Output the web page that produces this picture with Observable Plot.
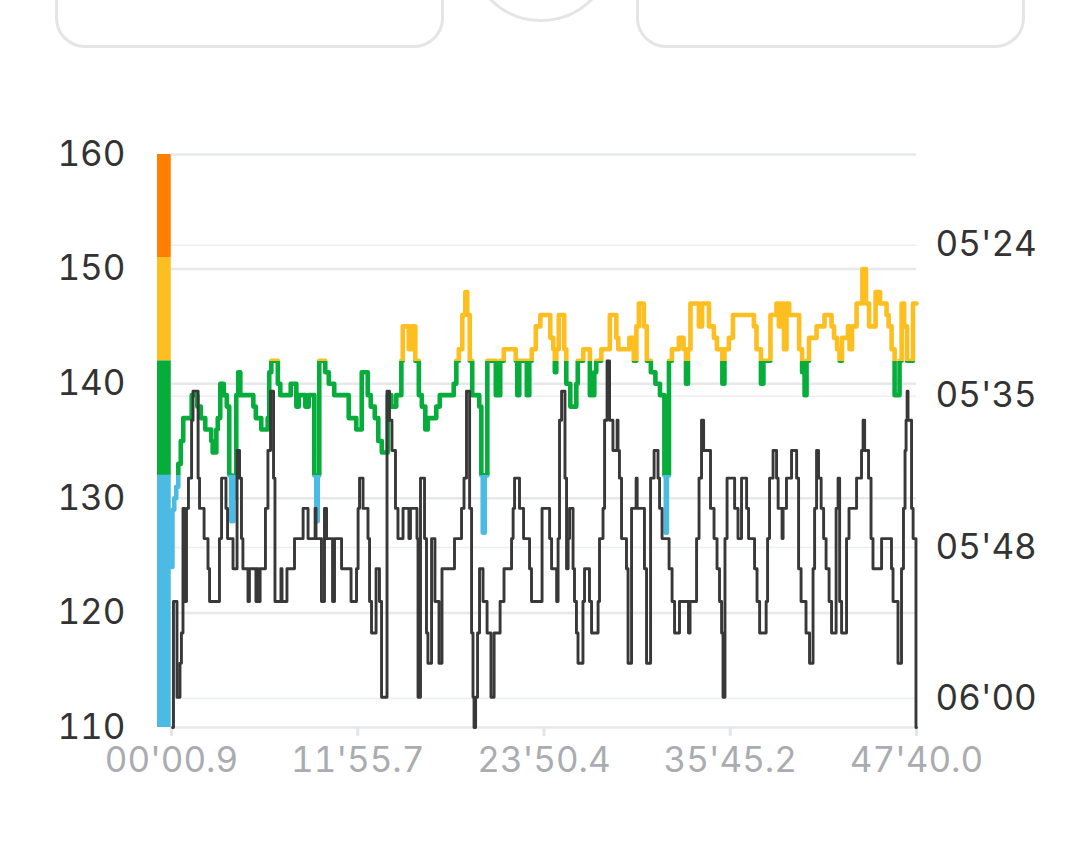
<!DOCTYPE html>
<html>
<head>
<meta charset="utf-8">
<script src="https://cdn.jsdelivr.net/npm/d3@7"></script>
<script src="https://cdn.jsdelivr.net/npm/@observablehq/plot@0.6"></script>
<style>
  html, body { margin: 0; padding: 0; background: #fff; overflow: hidden; }
  #page { position: relative; width: 1080px; height: 864px; overflow: hidden; background: #fff; }
  .card { position: absolute; box-sizing: border-box; border: 3px solid #e5e5e5; border-radius: 30px; background: #fff; }
  #card1 { left: 55px; top: -50px; width: 389px; height: 98px; }
  #card2 { left: 636px; top: -50px; width: 389px; height: 98px; }
  #dial { position: absolute; box-sizing: border-box; left: 468px; top: -124px; width: 146px; height: 146px; border: 3px solid #e5e5e5; border-radius: 50%; background: #fff; }
  .layer { position: absolute; left: 0; top: 0; }
</style>
</head>
<body>
<div id="page">
  <div class="card" id="card1"></div>
  <div id="dial"></div>
  <div class="card" id="card2"></div>
  <div class="layer" id="paceGridLayer"></div>
  <div class="layer" id="hrLayer"></div>
  <div class="layer" id="paceLayer"></div>
</div>
<script>
// ---------- data ----------
// heart-rate zones (bpm bounds) and their colours
const zoneBounds = [110, 132, 142, 151, 160];
const zoneColors = ["#4bbbe4", "#06ad3b", "#fdbe1f", "#ff7f00"];

// left axis ticks (bpm)
const hrTicks = [110, 120, 130, 140, 150, 160];

// right axis ticks: pace in seconds per km and their labels
const paceTicks = [324, 336, 348, 360];
const paceTickLabels = ["05'24", "05'35", "05'48", "06'00"];

// x axis ticks: elapsed seconds and labels
const timeTicks = [0.9, 715.7, 1430.4, 2145.2, 2860.0];
const timeTickLabels = ["00'00.9", "11'55.7", "23'50.4", "35'45.2", "47'40.0"];

// heart rate: [elapsed seconds, bpm]
const hrPoints = [[1,124],[8,129],[15,130],[23,131],[31,133],[42,135],[50,137],[73,137],[84,139],[96,139],[104,138],[123,137],[138,136],[150,136],[157,135],[161,134],[169,134],[177,136],[180,137],[196,140],[207,139],[219,138],[226,132],[234,128],[242,130],[246,132],[253,139],[261,141],[269,139],[276,139],[311,139],[319,138],[330,137],[342,137],[349,136],[368,136],[372,137],[380,141],[388,142],[407,142],[411,140],[426,139],[449,139],[468,140],[476,140],[484,138],[495,139],[507,139],[522,138],[533,139],[545,139],[553,132],[560,128],[564,132],[572,142],[583,142],[599,141],[610,140],[622,140],[629,139],[675,139],[687,137],[706,137],[714,136],[725,136],[737,141],[752,141],[756,139],[775,138],[787,137],[802,135],[814,134],[821,134],[841,139],[848,138],[860,138],[867,139],[879,139],[887,142],[890,145],[906,145],[917,143],[929,145],[944,142],[956,139],[967,138],[983,136],[986,137],[1013,137],[1021,138],[1040,139],[1078,139],[1090,140],[1098,142],[1109,143],[1125,146],[1132,148],[1140,146],[1151,142],[1159,139],[1178,139],[1186,138],[1194,132],[1197,127],[1209,132],[1217,142],[1236,142],[1255,139],[1270,142],[1282,143],[1320,143],[1324,142],[1332,139],[1339,142],[1359,142],[1370,139],[1378,142],[1389,143],[1409,145],[1424,146],[1447,146],[1462,144],[1470,143],[1474,141],[1481,143],[1493,146],[1504,146],[1512,143],[1520,140],[1524,140],[1539,138],[1551,138],[1558,140],[1562,142],[1577,142],[1585,143],[1597,143],[1616,139],[1620,139],[1627,141],[1635,142],[1647,142],[1654,143],[1673,143],[1693,146],[1704,146],[1712,144],[1719,143],[1754,143],[1762,144],[1769,144],[1781,142],[1789,145],[1800,147],[1808,147],[1819,145],[1831,142],[1850,141],[1866,140],[1885,139],[1889,139],[1896,132],[1900,127],[1904,132],[1916,142],[1927,143],[1942,143],[1954,144],[1962,144],[1970,143],[1981,140],[1985,143],[2000,147],[2019,147],[2031,145],[2043,147],[2058,147],[2069,145],[2077,145],[2088,144],[2100,143],[2111,143],[2119,140],[2127,143],[2134,143],[2146,144],[2165,146],[2184,146],[2230,146],[2242,145],[2250,143],[2261,143],[2265,140],[2280,142],[2292,142],[2307,146],[2319,146],[2326,147],[2338,145],[2346,147],[2357,143],[2365,147],[2377,146],[2404,146],[2415,143],[2427,141],[2434,139],[2442,142],[2453,144],[2473,144],[2480,145],[2503,145],[2511,146],[2530,146],[2538,145],[2549,144],[2561,143],[2568,142],[2580,144],[2595,144],[2599,145],[2607,143],[2618,145],[2626,145],[2634,147],[2645,147],[2660,150],[2672,147],[2684,145],[2695,145],[2711,148],[2718,148],[2722,147],[2741,147],[2749,146],[2757,145],[2772,143],[2780,139],[2791,139],[2799,142],[2807,147],[2818,145],[2829,142],[2837,142],[2856,147],[2860,147]];

// pace: [elapsed seconds, seconds per km]
const pacePoints = [[5,362.3],[12,352.3],[20,352.3],[24,359.9],[32,359.9],[35,357.2],[43,354.8],[47,344.9],[55,352.3],[62,344.9],[70,342.5],[74,342.5],[82,337.9],[85,335.6],[101,335.6],[105,342.5],[112,344.9],[124,344.9],[128,347.3],[139,347.3],[143,349.7],[151,352.3],[181,352.3],[189,347.3],[197,342.5],[208,342.5],[212,344.9],[220,347.3],[235,347.3],[239,349.7],[247,349.7],[258,340.3],[266,342.5],[273,347.3],[277,349.7],[293,349.7],[296,352.3],[304,349.7],[323,349.7],[327,352.3],[331,349.7],[339,352.3],[343,349.7],[354,349.7],[369,344.9],[373,340.3],[389,335.6],[396,342.5],[400,352.3],[419,352.3],[423,349.7],[427,352.3],[438,352.3],[450,349.7],[469,349.7],[477,347.3],[504,347.3],[508,344.9],[523,344.9],[527,347.3],[550,347.3],[554,344.9],[557,347.3],[573,347.3],[580,352.3],[584,352.3],[592,344.9],[600,347.3],[615,347.3],[623,352.3],[630,347.3],[650,347.3],[657,349.7],[688,349.7],[692,352.3],[707,352.3],[715,349.7],[719,344.9],[726,342.5],[734,342.5],[738,344.9],[753,344.9],[757,347.3],[765,352.3],[772,354.8],[780,354.8],[792,349.7],[795,349.7],[803,352.3],[811,359.9],[822,359.9],[834,335.6],[841,337.9],[853,340.3],[868,344.9],[872,347.3],[888,347.3],[891,344.9],[910,344.9],[914,347.3],[922,344.9],[941,344.9],[945,347.3],[949,359.9],[953,359.9],[960,342.5],[968,342.5],[976,347.3],[983,354.8],[987,357.2],[995,357.2],[1003,347.3],[1010,347.3],[1014,352.3],[1026,352.3],[1029,357.2],[1037,357.2],[1041,349.7],[1083,349.7],[1091,347.3],[1110,347.3],[1118,344.9],[1129,342.5],[1137,335.6],[1141,335.6],[1149,344.9],[1156,354.8],[1160,359.9],[1164,362.3],[1172,359.9],[1179,354.8],[1187,349.7],[1195,349.7],[1198,352.3],[1210,352.3],[1214,354.8],[1225,354.8],[1229,359.9],[1237,359.9],[1241,354.8],[1260,354.8],[1264,352.3],[1275,352.3],[1279,349.7],[1302,349.7],[1310,347.3],[1314,344.9],[1321,342.5],[1333,342.5],[1340,344.9],[1348,344.9],[1356,347.3],[1371,347.3],[1379,349.7],[1386,352.3],[1421,352.3],[1425,344.9],[1448,344.9],[1456,347.3],[1463,349.7],[1475,349.7],[1483,352.3],[1486,347.3],[1494,337.9],[1502,335.6],[1509,335.6],[1513,342.5],[1521,349.7],[1525,347.3],[1532,344.9],[1540,344.9],[1544,349.7],[1551,352.3],[1559,354.8],[1563,357.2],[1578,357.2],[1582,352.3],[1590,349.7],[1601,349.7],[1609,352.3],[1617,354.8],[1636,354.8],[1640,352.3],[1647,347.3],[1655,347.3],[1659,344.9],[1667,337.9],[1678,333.2],[1686,337.9],[1693,337.9],[1697,340.3],[1709,340.3],[1713,337.9],[1716,340.3],[1724,342.5],[1732,347.3],[1743,347.3],[1751,349.7],[1755,357.2],[1763,357.2],[1770,344.9],[1782,344.9],[1786,342.5],[1790,344.9],[1812,344.9],[1820,349.7],[1828,357.2],[1832,357.2],[1847,342.5],[1859,340.3],[1866,340.3],[1870,342.5],[1878,344.9],[1889,347.3],[1905,347.3],[1916,349.7],[1928,352.3],[1935,354.8],[1947,354.8],[1954,352.3],[1981,352.3],[1989,354.8],[1993,352.3],[2012,352.3],[2020,347.3],[2031,342.5],[2039,337.9],[2047,340.3],[2062,340.3],[2077,344.9],[2089,347.3],[2100,349.7],[2108,352.3],[2116,354.8],[2119,359.9],[2123,359.9],[2127,347.3],[2139,342.5],[2158,342.5],[2166,344.9],[2173,344.9],[2177,347.3],[2185,347.3],[2192,342.5],[2204,342.5],[2212,344.9],[2219,347.3],[2235,347.3],[2242,349.7],[2254,352.3],[2262,354.8],[2281,354.8],[2285,352.3],[2292,347.3],[2300,342.5],[2308,342.5],[2311,340.3],[2319,340.3],[2327,342.5],[2331,344.9],[2342,344.9],[2346,347.3],[2350,344.9],[2357,344.9],[2365,342.5],[2377,342.5],[2384,340.3],[2396,340.3],[2404,342.5],[2411,349.7],[2423,352.3],[2434,352.3],[2438,354.8],[2446,354.8],[2453,357.2],[2461,357.2],[2465,349.7],[2473,344.9],[2480,340.3],[2488,342.5],[2500,344.9],[2507,347.3],[2519,349.7],[2530,352.3],[2538,354.8],[2546,354.8],[2557,344.9],[2561,342.5],[2569,352.3],[2576,354.8],[2588,354.8],[2595,347.3],[2607,344.9],[2626,344.9],[2634,342.5],[2645,342.5],[2653,340.3],[2657,337.9],[2665,340.3],[2672,340.3],[2680,342.5],[2691,347.3],[2695,349.7],[2722,349.7],[2730,347.3],[2760,347.3],[2768,349.7],[2772,352.3],[2787,352.3],[2791,357.2],[2799,357.2],[2806,349.7],[2814,344.9],[2818,340.3],[2822,337.9],[2826,335.6],[2829,337.9],[2837,337.9],[2845,344.9],[2849,347.3],[2856,347.3],[2860,362.3]];

// ---------- layout ----------
const W = 1080, H = 800;
const M = {top: 154, right: 164, bottom: 73, left: 157};
const timeDomain = [-52.8, 2860];     // leaves room for the zone bar left of t = 0
const hrDomain = [110, 160];
const paceDomain = [362.3, 316.8];    // slower pace at the bottom
const FONT = "Inter, Lato, sans-serif";

const zones = zoneColors.map((c, i) => ({lo: zoneBounds[i], hi: zoneBounds[i + 1], color: c}));

const base = {
  width: W, height: H,
  marginTop: M.top, marginRight: M.right, marginBottom: M.bottom, marginLeft: M.left,
  style: {background: "transparent", fontFamily: FONT, fontSize: "35px", color: "#333", overflow: "visible"}
};

// layer 1: pace grid + right axis
const paceGrid = Plot.plot({
  ...base,
  x: {domain: timeDomain, axis: null},
  y: {domain: paceDomain},
  marks: [
    Plot.ruleY(paceTicks, {x1: 0, x2: timeDomain[1], stroke: "#eceef1", strokeWidth: 1.5}),
    Plot.axisY(paceTicks, {anchor: "right", tickSize: 0, tickPadding: 19, fill: "#333",
      tickFormat: d => paceTickLabels[paceTicks.indexOf(d)]})
  ]
});
document.getElementById("paceGridLayer").appendChild(paceGrid);

// layer 2: heart rate
const hrPlot = Plot.plot({
  ...base,
  color: {type: "identity"},
  x: {domain: timeDomain},
  y: {domain: hrDomain},
  marks: [
    Plot.ruleY(hrTicks, {x1: 0, x2: timeDomain[1], stroke: "#e6e8eb", strokeWidth: 2.5}),
    Plot.rect(zones, {x1: timeDomain[0], x2: 0, y1: "lo", y2: "hi", fill: "color"}),
    Plot.line(hrPoints, {x: d => d[0], y: d => d[1], stroke: "url(#hrZones)", strokeWidth: 4.6, curve: "step"}),
    Plot.axisY(hrTicks, {anchor: "left", tickSize: 0, tickPadding: 32, fill: "#333"}),
    Plot.axisX(timeTicks, {anchor: "bottom", tickSize: 9, tickPadding: 11, stroke: "#e3e6e9", strokeWidth: 3,
      fill: "#a9acb1", tickFormat: d => timeTickLabels[timeTicks.indexOf(d)]})
  ]
});
// zone-coloured gradient for the heart-rate line, positioned through the y scale
(function () {
  const ns = "http://www.w3.org/2000/svg";
  const ys = hrPlot.scale("y");
  const defs = document.createElementNS(ns, "defs");
  const grad = document.createElementNS(ns, "linearGradient");
  grad.setAttribute("id", "hrZones");
  grad.setAttribute("gradientUnits", "userSpaceOnUse");
  grad.setAttribute("x1", 0); grad.setAttribute("x2", 0);
  const lo = zoneBounds[0], hi = zoneBounds[zoneBounds.length - 1];
  grad.setAttribute("y1", ys.apply(lo));
  grad.setAttribute("y2", ys.apply(hi));
  zones.forEach(z => {
    [z.lo, z.hi].forEach(v => {
      const s = document.createElementNS(ns, "stop");
      s.setAttribute("offset", (v - lo) / (hi - lo));
      s.setAttribute("stop-color", z.color);
      grad.appendChild(s);
    });
  });
  defs.appendChild(grad);
  hrPlot.insertBefore(defs, hrPlot.firstChild);
})();
document.getElementById("hrLayer").appendChild(hrPlot);

// layer 3: pace line
const pacePlot = Plot.plot({
  ...base,
  x: {domain: timeDomain, axis: null},
  y: {domain: paceDomain, axis: null},
  marks: [
    Plot.line(pacePoints, {x: d => d[0], y: d => d[1], stroke: "#383838", strokeWidth: 2.9, curve: "step"})
  ]
});
document.getElementById("paceLayer").appendChild(pacePlot);
</script>
</body>
</html>
